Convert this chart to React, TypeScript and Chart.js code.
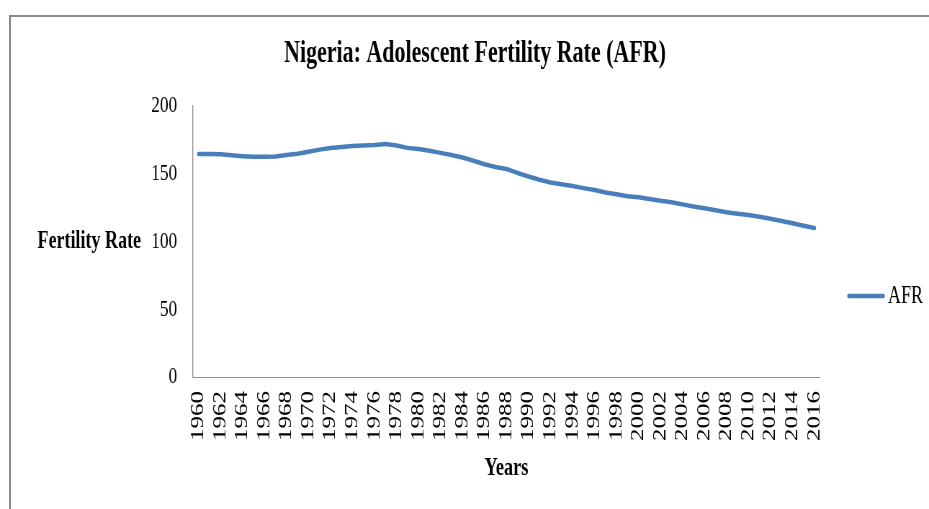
import React, { useEffect, useRef } from "react";
import { Chart, registerables } from "chart.js";

Chart.register(...registerables);

// ---- data ----
const years = [
  "1960", "1961", "1962", "1963", "1964", "1965", "1966", "1967", "1968", "1969",
  "1970", "1971", "1972", "1973", "1974", "1975", "1976", "1977", "1978", "1979",
  "1980", "1981", "1982", "1983", "1984", "1985", "1986", "1987", "1988", "1989",
  "1990", "1991", "1992", "1993", "1994", "1995", "1996", "1997", "1998", "1999",
  "2000", "2001", "2002", "2003", "2004", "2005", "2006", "2007", "2008", "2009",
  "2010", "2011", "2012", "2013", "2014", "2015", "2016",
];

const afrValues = [
  164.5, 164.5, 164.4, 163.6, 163.0, 162.5, 162.6, 162.8, 163.8, 164.8,
  166.2, 167.8, 169.0, 169.8, 170.5, 170.9, 171.2, 172.0, 170.8, 169.1,
  168.2, 167.0, 165.4, 163.8, 162.0, 159.6, 157.0, 155.0, 153.5, 150.6,
  148.0, 145.6, 143.6, 142.2, 141.0, 139.4, 138.0, 136.1, 134.9, 133.4,
  132.6, 131.3, 130.0, 129.0, 127.4, 125.8, 124.5, 123.0, 121.6, 120.5,
  119.5, 118.2, 116.8, 115.2, 113.4, 111.6, 109.9,
];

const yMin = 0;
const yMax = 200;
const yStep = 50;

const seriesLabel = "AFR";
const chartTitle = "Nigeria: Adolescent Fertility Rate (AFR)";
const xAxisTitle = "Years";
const yAxisTitle = "Fertility Rate";

// ---- presentation ----
const SCREEN_W = 929;
const SCREEN_H = 509;
const SQUEEZE = 0.72; // reference text is horizontally condensed
const CANVAS_W = Math.round(SCREEN_W / SQUEEZE);
const SERIF = "'Liberation Serif', 'Times New Roman', serif";
const LINE_COLOR = "#4a7ebb";
const AXIS_COLOR = "#8e8e8e";

const sideTextPlugin = {
  id: "sideText",
  afterDraw(chart: any) {
    const { ctx, chartArea, scales } = chart;
    ctx.save();
    ctx.fillStyle = "#000";
    // horizontal y-axis title
    ctx.font = `bold 25px ${SERIF}`;
    ctx.textAlign = "right";
    ctx.textBaseline = "middle";
    ctx.fillText(yAxisTitle, scales.y.left + 166.6, (chartArea.top + chartArea.bottom) / 2);
    // legend
    const ds = chart.data.datasets[0];
    const ly = chartArea.top + (chartArea.bottom - chartArea.top) * 0.701;
    const lx = chartArea.right + 40;
    ctx.strokeStyle = ds.borderColor;
    ctx.lineWidth = 4.5;
    ctx.lineCap = "round";
    ctx.beginPath();
    ctx.moveTo(lx, ly);
    ctx.lineTo(lx + 48, ly);
    ctx.stroke();
    ctx.font = `25px ${SERIF}`;
    ctx.textAlign = "left";
    ctx.fillText(ds.label, lx + 54.5, ly);
    ctx.restore();
  },
};

export default function App() {
  const canvasRef = useRef<HTMLCanvasElement | null>(null);

  useEffect(() => {
    if (!canvasRef.current) return;
    const chart = new Chart(canvasRef.current, {
      type: "line",
      data: {
        labels: years,
        datasets: [
          {
            label: seriesLabel,
            data: afrValues,
            borderColor: LINE_COLOR,
            backgroundColor: LINE_COLOR,
            borderWidth: 4.5,
            pointRadius: 0,
            tension: 0,
            borderCapStyle: "round",
            borderJoinStyle: "round",
            fill: false,
          },
        ],
      },
      options: {
        animation: false,
        responsive: false,
        devicePixelRatio: 1,
        layout: { padding: { left: 29.2, right: 0, top: 0, bottom: 0 } },
        plugins: {
          legend: { display: false },
          tooltip: { enabled: false },
          title: {
            display: true,
            text: chartTitle,
            color: "#000",
            font: { family: SERIF, size: 30.5, weight: "bold" },
            padding: { top: 36, bottom: 33.4 },
          },
        },
        scales: {
          x: {
            type: "category",
            offset: true,
            grid: { display: false, drawTicks: false },
            border: { display: true, color: AXIS_COLOR, width: 1 },
            ticks: {
              autoSkip: false,
              minRotation: 90,
              maxRotation: 90,
              padding: 14,
              color: "#000",
              font: { family: SERIF, size: 25 },
              callback: (_v: any, i: number) => (i % 2 === 0 ? years[i] : ""),
            },
            title: {
              display: true,
              text: xAxisTitle,
              color: "#000",
              font: { family: SERIF, size: 25.5, weight: "bold" },
              padding: { top: 0, bottom: 25 },
            },
            afterFit: (s: any) => {
              s.height = 132;
            },
          },
          y: {
            type: "linear",
            position: "left",
            min: yMin,
            max: yMax,
            grid: { display: false, drawTicks: false },
            border: { display: true, color: AXIS_COLOR, width: 1.4 },
            ticks: {
              stepSize: yStep,
              padding: 22,
              color: "#000",
              font: { family: SERIF, size: 24 },
            },
            afterFit: (s: any) => {
              s.width = 238.8;
            },
          },
          yR: {
            type: "linear",
            position: "right",
            display: true,
            grid: { display: false, drawTicks: false },
            border: { display: false },
            ticks: { display: false },
            afterFit: (s: any) => {
              s.width = 151.4;
            },
          },
        },
      },
      plugins: [sideTextPlugin],
    } as any);
    return () => chart.destroy();
  }, []);

  return (
    <div
      style={{
        position: "absolute",
        left: 0,
        top: 0,
        width: SCREEN_W,
        height: SCREEN_H,
        overflow: "hidden",
        background: "#fff",
      }}
    >
      <div
        style={{
          position: "absolute",
          left: 9,
          top: 15,
          width: 1000,
          height: 600,
          borderLeft: "2px solid #8c8c8c",
          borderTop: "2px solid #8c8c8c",
        }}
      />
      <canvas
        ref={canvasRef}
        width={CANVAS_W}
        height={SCREEN_H}
        style={{
          position: "absolute",
          left: 0,
          top: 0,
          width: SCREEN_W + "px",
          height: SCREEN_H + "px",
        }}
      />
    </div>
  );
}
